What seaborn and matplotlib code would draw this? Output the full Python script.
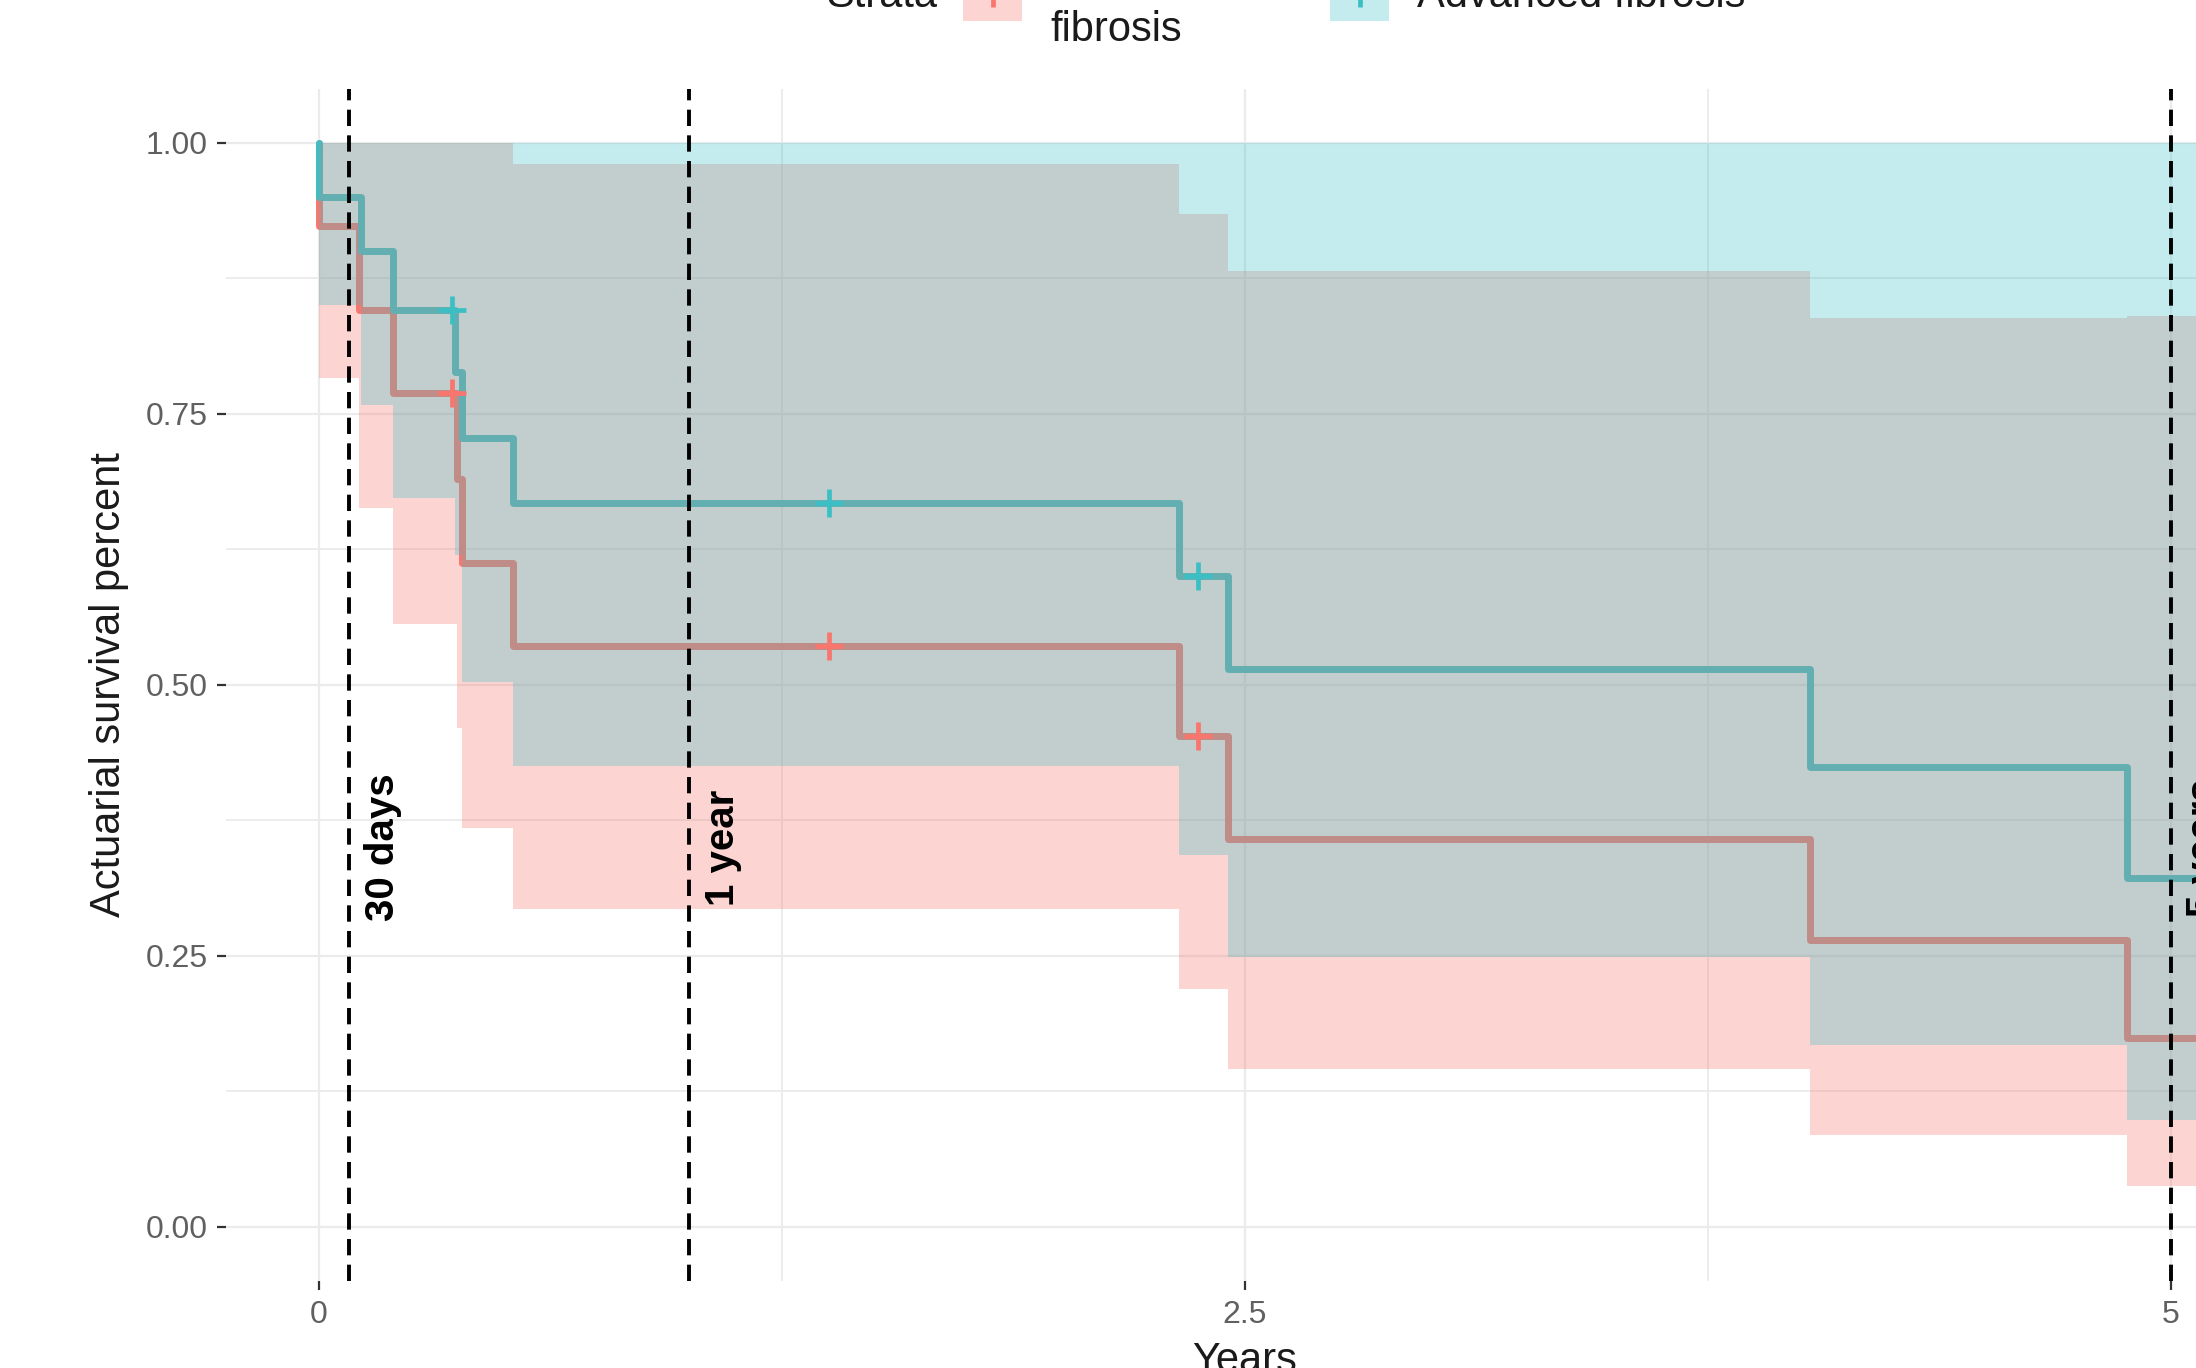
import numpy as np
import pandas as pd
import matplotlib
matplotlib.use("Agg")
import matplotlib.pyplot as plt
from matplotlib.patches import Rectangle
from matplotlib.lines import Line2D
from matplotlib.ticker import FixedLocator
import seaborn as sns

# ---- Kaplan-Meier estimates (time in years) ---------------------------------
groups = ["Non-advanced\nfibrosis", "Advanced fibrosis"]
palette = ["#F8766D", "#3CBFC4"]

mild_time = [0, 0, 0.107, 0.200, 0.372, 0.385, 0.525, 2.322, 2.454, 4.026, 4.880, 5.25]
mild_surv = [1.0, 0.923, 0.846, 0.769, 0.690, 0.612, 0.536, 0.453, 0.358, 0.265, 0.174, 0.174]
mild_upper = [1.0, 1.0, 1.0, 1.0, 1.0, 1.0, 0.980, 0.934, 0.882, 0.838, 0.840, 0.840]
mild_lower = [1.0, 0.783, 0.663, 0.556, 0.460, 0.368, 0.293, 0.219, 0.146, 0.085, 0.038, 0.038]
mild_cens_time = [0.358, 1.377, 2.373]
mild_cens_surv = [0.769, 0.536, 0.453]

adv_time = [0, 0, 0.114, 0.200, 0.366, 0.385, 0.525, 2.322, 2.454, 4.026, 4.880, 5.25]
adv_surv = [1.0, 0.950, 0.900, 0.846, 0.789, 0.728, 0.668, 0.600, 0.515, 0.424, 0.322, 0.322]
adv_upper = [1.0, 1.0, 1.0, 1.0, 1.0, 1.0, 1.0, 1.0, 1.0, 1.0, 1.0, 1.0]
adv_lower = [1.0, 0.850, 0.758, 0.672, 0.620, 0.503, 0.425, 0.343, 0.249, 0.168, 0.099, 0.099]
adv_cens_time = [0.358, 1.377, 2.373]
adv_cens_surv = [0.846, 0.668, 0.600]

# reference time points
mark_times = [30 / 365, 1.0, 5.0]
mark_labels = ["30 days", "1 year", "5 years"]

x_ticks = [0, 2.5, 5]
x_tick_labels = ["0", "2.5", "5"]
y_ticks = [0.0, 0.25, 0.5, 0.75, 1.0]
y_tick_labels = ["0.00", "0.25", "0.50", "0.75", "1.00"]

# ---- styling ----------------------------------------------------------------
sns.set_theme(style="white")
plt.rcParams["font.family"] = ["Liberation Sans", "DejaVu Sans"]

W, H, DPI = 2196, 1368, 200
fig = plt.figure(figsize=(W / DPI, H / DPI), dpi=DPI)
fig.patch.set_facecolor("white")


def fx(px):
    return px / W


def fy(py):
    return 1 - py / H


ax = fig.add_axes([fx(226.4), fy(1281.1), (2263.6 - 226.4) / W, (1281.1 - 88.6) / H])
ax.set_facecolor("white")

# survival curves
frames = []
for g, t, s in [(groups[0], mild_time, mild_surv), (groups[1], adv_time, adv_surv)]:
    frames.append(pd.DataFrame({"time": t, "surv": s, "strata": g}))
km = pd.concat(frames, ignore_index=True)

sns.lineplot(data=km, x="time", y="surv", hue="strata", hue_order=groups,
             palette=palette, estimator=None, sort=False,
             drawstyle="steps-post", linewidth=2.5, legend=False, ax=ax, zorder=2)

# confidence bands
ax.fill_between(mild_time, mild_lower, mild_upper, step="post",
                color=palette[0], alpha=0.3, lw=0, zorder=3)
ax.fill_between(adv_time, adv_lower, adv_upper, step="post",
                color=palette[1], alpha=0.3, lw=0, zorder=4)

# censoring marks
ax.plot(mild_cens_time, mild_cens_surv, ls="none", marker="+", ms=10, mew=1.7,
        color=palette[0], zorder=5)
ax.plot(adv_cens_time, adv_cens_surv, ls="none", marker="+", ms=10, mew=1.7,
        color=palette[1], zorder=5)

# reference time lines
for t, lab in zip(mark_times, mark_labels):
    ax.axvline(t, color="black", lw=1.4, dashes=(4.2, 2.4), zorder=6)
    ax.text(t + 0.09, 0.35, lab, rotation=90, ha="center", va="center",
            fontsize=14.5, fontweight="bold", color="black", zorder=7)

# axes, ticks, grid
ax.set_xlim(-0.25, 5.25)
ax.set_ylim(-0.05, 1.05)
ax.set_xticks(x_ticks)
ax.set_xticklabels(x_tick_labels)
ax.set_yticks(y_ticks)
ax.set_yticklabels(y_tick_labels)
ax.xaxis.set_minor_locator(FixedLocator([1.25, 3.75]))
ax.yaxis.set_minor_locator(FixedLocator([0.125, 0.375, 0.625, 0.875]))
ax.tick_params(axis="both", which="major", labelsize=11.5, labelcolor="#606060",
               color="#333333", length=3.3, width=0.8, pad=3.5,
               bottom=True, left=True)
ax.tick_params(axis="both", which="minor", length=0)
ax.set_axisbelow(True)
ax.grid(which="major", color="#EBEBEB", lw=0.8)
ax.grid(which="minor", color="#EBEBEB", lw=0.65)
for sp in ax.spines.values():
    sp.set_visible(False)
ax.set_xlabel("")
ax.set_ylabel("")

# axis titles
fig.text(fx(109), fy(685), "Actuarial survival percent", rotation=90,
         ha="center", va="center", fontsize=15, color="#1a1a1a")
fig.text(fx(1245), fy(1372), "Years", ha="center", va="baseline",
         fontsize=15, color="#1a1a1a")

# legend along the top
fig.text(fx(826), fy(7), "Strata", ha="left", va="baseline", fontsize=15,
         color="#1a1a1a")
key_x = [963, 1330]
label_x = [1050, 1417]
label_base = [41, 7]
for i, (g, c) in enumerate(zip(groups, palette)):
    fig.add_artist(Rectangle((fx(key_x[i]), fy(21)), 59 / W, 59 / H,
                             transform=fig.transFigure, facecolor=c, alpha=0.3,
                             lw=0))
    fig.add_artist(Line2D([fx(key_x[i] + 3), fx(key_x[i] + 56)], [fy(-8.5), fy(-8.5)],
                          transform=fig.transFigure, color=c, lw=2.5))
    fig.add_artist(Line2D([fx(key_x[i] + 29.5)], [fy(-8.5)], marker="+", ms=11,
                          mew=1.7, color=c, transform=fig.transFigure))
    fig.text(fx(label_x[i]), fy(label_base[i]), g, ha="left", va="baseline",
             fontsize=15, color="#1a1a1a")

fig.savefig("out.png", dpi=DPI)
